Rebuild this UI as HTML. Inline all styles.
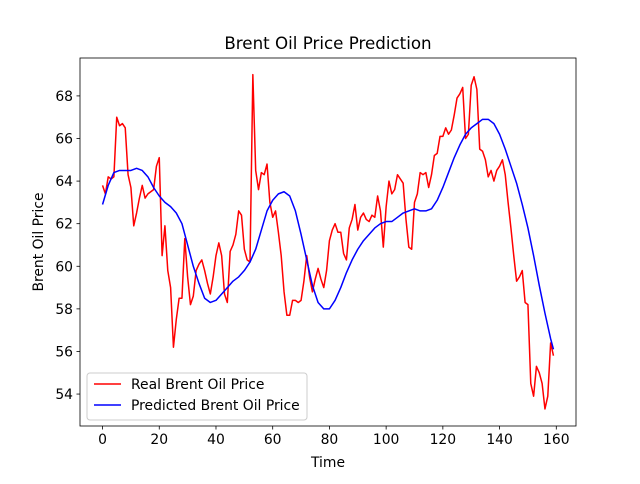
<!DOCTYPE html>
<html><head><meta charset="utf-8"><style>
body{margin:0;background:#fff}
svg{font-family:"DejaVu Sans","Liberation Sans",sans-serif}
</style></head><body>
<svg id="chart" width="640" height="479" xmlns="http://www.w3.org/2000/svg">
<rect width="640" height="479" fill="#fff"/>
<text x="328" y="49" text-anchor="middle" font-size="16.7">Brent Oil Price Prediction</text>
<g id="grid"></g>
<g id="series"></g>
<rect x="80" y="58" width="496" height="368" fill="none" stroke="#000" stroke-width="0.8"/>
<text x="328" y="467" text-anchor="middle" font-size="13.9">Time</text>
<text transform="translate(43,242) rotate(-90)" text-anchor="middle" font-size="13.9">Brent Oil Price</text>
<g>
<rect x="87" y="373" width="220" height="47" rx="3" fill="#fff" fill-opacity="0.8" stroke="#ccc"/>
<line x1="94" y1="384" x2="121" y2="384" stroke="red" stroke-width="1.5"/>
<text x="131" y="389" font-size="13.9">Real Brent Oil Price</text>
<line x1="94" y1="405" x2="121" y2="405" stroke="blue" stroke-width="1.5"/>
<text x="131" y="410" font-size="13.9">Predicted Brent Oil Price</text>
</g>
</svg>
<script>
const realVals=[63.8,63.4,64.2,64.1,64.2,67.0,66.6,66.7,66.5,64.3,63.7,61.9,62.5,63.2,63.8,63.2,63.4,63.5,63.6,64.7,65.1,60.5,61.9,59.8,59.0,56.2,57.5,58.5,58.5,61.3,59.5,58.2,58.6,59.8,60.1,60.3,59.8,59.2,58.7,59.5,60.5,61.1,60.5,58.7,58.3,60.7,61.0,61.5,62.6,62.4,60.8,60.3,60.2,69.0,64.5,63.6,64.4,64.3,64.8,63.0,62.3,62.6,61.6,60.5,58.8,57.7,57.7,58.4,58.4,58.3,58.4,59.3,60.5,59.5,58.8,59.4,59.9,59.4,59.0,59.8,61.2,61.7,62.0,61.6,61.6,60.6,60.3,61.8,62.2,62.9,61.7,62.3,62.5,62.2,62.1,62.4,62.3,63.3,62.6,60.9,62.8,64.0,63.4,63.6,64.3,64.1,63.9,62.2,60.9,60.8,63.0,63.4,64.4,64.3,64.4,63.7,64.3,65.2,65.3,66.1,66.1,66.5,66.2,66.4,67.1,67.9,68.1,68.4,66.0,66.2,68.5,68.9,68.3,65.5,65.4,65.0,64.2,64.5,64.0,64.5,64.7,65.0,64.3,63.0,61.8,60.5,59.3,59.5,59.8,58.3,58.2,54.5,53.9,55.3,55.0,54.5,53.3,53.9,56.4,55.8];
const predTimes=[0,2,4,6,8,10,12,14,16,18,20,22,24,26,28,30,32,34,36,38,40,42,44,46,48,50,52,54,56,58,60,62,64,66,68,70,72,74,76,78,80,82,84,86,88,90,92,94,96,98,100,102,104,106,108,110,112,114,116,118,120,122,124,126,128,130,132,134,136,138,140,142,144,146,148,150,152,154,156,158,159];
const predVals=[62.9,63.8,64.4,64.5,64.5,64.5,64.6,64.5,64.2,63.7,63.3,63.0,62.8,62.5,62.0,61.0,60.0,59.2,58.5,58.3,58.4,58.7,59.0,59.3,59.5,59.8,60.2,60.8,61.7,62.6,63.1,63.4,63.5,63.3,62.6,61.5,60.3,59.1,58.3,58.0,58.0,58.4,59.0,59.7,60.3,60.8,61.2,61.5,61.8,62.0,62.1,62.1,62.3,62.5,62.6,62.7,62.6,62.6,62.7,63.1,63.7,64.4,65.1,65.7,66.2,66.5,66.7,66.9,66.9,66.7,66.2,65.5,64.7,63.9,62.9,61.8,60.5,59.1,57.8,56.6,56.1];
const xTicks=[0,20,40,60,80,100,120,140,160];
const yTicks=[54,56,58,60,62,64,66,68];
const X0=80,X1=576,Y0=426,Y1=58;
const xMin=-7.95,xMax=166.95,yMin=52.5,yMax=69.78;
const sx=v=>X0+(v-xMin)/(xMax-xMin)*(X1-X0);
const sy=v=>Y0-(v-yMin)/(yMax-yMin)*(Y0-Y1);
const NS="http://www.w3.org/2000/svg";
const grid=document.getElementById('grid'),ser=document.getElementById('series');
function mk(t,a,p){const e=document.createElementNS(NS,t);for(const k in a)e.setAttribute(k,a[k]);p.appendChild(e);return e;}
xTicks.forEach(v=>{
 const l=mk('line',{x1:sx(v),x2:sx(v),y1:Y0,y2:Y0+3.5,stroke:'#000','stroke-width':0.8},grid);
 
 
 const t=mk('text',{x:sx(v),y:Y0+18,'text-anchor':'middle','font-size':13.9},grid);t.textContent=v;
 
 
});
yTicks.forEach(v=>{
 const l=mk('line',{x1:X0-3.5,x2:X0,y1:sy(v),y2:sy(v),stroke:'#000','stroke-width':0.8},grid);
 
 
 const t=mk('text',{x:X0-7,y:sy(v)+5,'text-anchor':'end','font-size':13.9},grid);t.textContent=v;
 
 
});
const r=mk('polyline',{points:realVals.map((v,i)=>sx(i)+','+sy(v)).join(' '),fill:'none',stroke:'red','stroke-width':1.5,'stroke-linejoin':'round'},ser);


const p=mk('polyline',{points:predVals.map((v,i)=>sx(predTimes[i])+','+sy(v)).join(' '),fill:'none',stroke:'blue','stroke-width':1.5,'stroke-linejoin':'round'},ser);


</script>
</body></html>
